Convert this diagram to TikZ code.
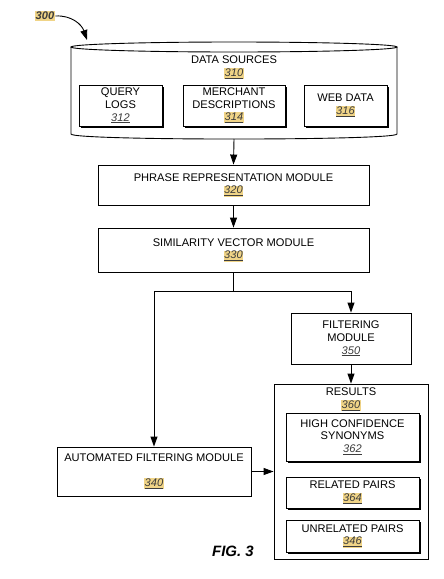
\documentclass[tikz,border=0pt]{standalone}
\usepackage{fontspec}
\setmainfont{Liberation Sans}
\usetikzlibrary{arrows.meta,shadows}

\definecolor{numhl}{RGB}{240,212,135}
\definecolor{numtxt}{RGB}{60,60,60}
\newcommand{\refnum}[1]{{\setlength{\fboxsep}{0.6pt}\colorbox{numhl}{\textcolor{numtxt}{\underline{\textit{#1}}}}}}
\newcommand{\plainnum}[1]{\textcolor{numtxt}{\underline{\textit{#1}}}}

\begin{document}
\begin{tikzpicture}[x=1pt,y=-1pt,
        font=\fontsize{11.1}{12.7}\selectfont,line width=0.9pt,
        >={Triangle[length=10pt,width=7pt]},
        every node/.style={align=center,inner sep=0pt},
        module/.style={draw,fill=white},
        shadowbox/.style={module,general shadow={fill=black,shadow xshift=2pt,shadow yshift=-2pt}}]

    \useasboundingbox (0,0) rectangle (444,579);

    % data sources cylinder
    \draw (71,47) -- (71,134) .. controls (71,140.7) and (397,140.7) .. (397,134) -- (397,47);
    \draw (234,47) ellipse [x radius=163pt,y radius=5pt];
    \coordinate (src) at (234,139);
    \node (srctitle) at (234,67.5) {DATA SOURCES\\\refnum{310}};

    \node[shadowbox,minimum width=83pt,minimum height=41pt] (query) at (120.5,105.5) {QUERY\\LOGS\\\plainnum{312}};
    \node[shadowbox,minimum width=102pt,minimum height=41pt] (merchant) at (234,105.5) {MERCHANT\\DESCRIPTIONS\\\refnum{314}};
    \node[shadowbox,minimum width=83pt,minimum height=41pt] (web) at (345.5,105.5) {WEB DATA\\\refnum{316}};

    % label 300
    \node[font=\fontsize{11.1}{12.7}\selectfont\bfseries\itshape] (fig300) at (45,16) {{\setlength{\fboxsep}{0.6pt}\colorbox{numhl}{\textcolor{numtxt}{300}}}};
    \coordinate (c300) at (87,40);
    \draw[->] (fig300.east) .. controls (72,15) and (82,25) .. (c300);

    % modules
    \node[module,minimum width=271pt,minimum height=40pt] (phrase) at (233.5,185) {PHRASE REPRESENTATION MODULE\\\refnum{320}};
    \node[module,minimum width=271pt,minimum height=44pt] (simvec) at (233.5,250) {SIMILARITY VECTOR MODULE\\\refnum{330}};
    \coordinate (split) at (233.5,291);
    \node[module,minimum width=120pt,minimum height=51pt] (filter) at (351,338.5) {FILTERING\\MODULE\\\plainnum{350}};
    \node[module,minimum width=194pt,minimum height=49pt] (auto) at (154,471.5) {AUTOMATED FILTERING MODULE\\[12.7pt]\refnum{340}};

    % results
    \node[module,minimum width=154pt,minimum height=175pt] (results) at (351,471.5) {};
    \node (restitle) at (351,399.5) {RESULTS\\\refnum{360}};
    \node[shadowbox,minimum width=133pt,minimum height=48pt] (highconf) at (352.5,437) {HIGH CONFIDENCE\\SYNONYMS\\\plainnum{362}};
    \node[shadowbox,minimum width=133pt,minimum height=31pt] (related) at (352.5,492.5) {RELATED PAIRS\\\refnum{364}};
    \node[shadowbox,minimum width=133pt,minimum height=32pt] (unrelated) at (352.5,536) {UNRELATED PAIRS\\\refnum{346}};

    \node[font=\fontsize{15}{18}\selectfont\bfseries\itshape] (figlabel) at (233,551.5) {FIG. 3};

    % connectors
    \draw[->] (src) -- (phrase.north);
    \draw[->] (phrase.south) -- (simvec.north);
    \draw (simvec.south) -- (split);
    \draw[->] (split) -| (auto.north);
    \draw[->] (split) -| (filter.north);
    \draw[->] (filter.south) -- (results.north);
    \draw[->] (auto.east) -- (results.west);
\end{tikzpicture}
\end{document}
